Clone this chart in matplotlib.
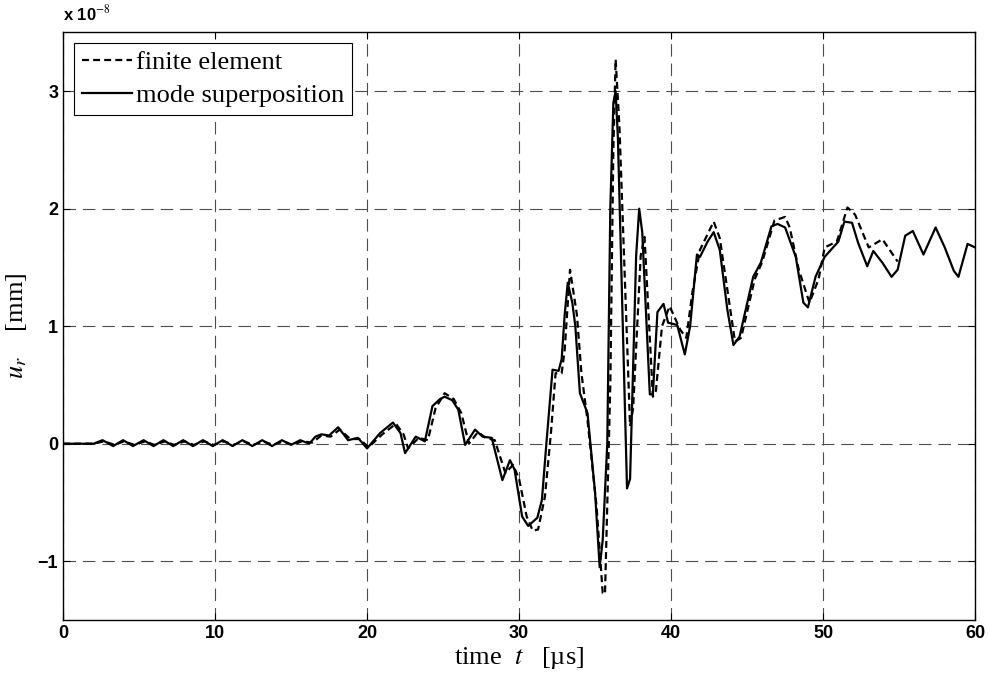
import matplotlib.pyplot as plt

plt.rcParams['lines.scale_dashes'] = False
plt.rcParams['mathtext.fontset'] = 'stix'

# mode superposition (solid), u_r in units of 1e-8 mm
t_mode = [0, 2.0, 2.6, 3.3, 3.95, 4.6, 5.3, 5.95, 6.6, 7.25, 7.9, 8.55, 9.2, 9.85,
          10.5, 11.15, 11.8, 12.45, 13.1, 13.75, 14.4, 15.0, 15.6, 16.2, 16.6, 17.0,
          17.5, 18.1, 18.75, 19.4, 20.0, 20.85, 21.7, 22.2, 22.5, 23.2, 23.8, 24.3,
          24.8, 25.1, 25.6, 26.0, 26.45, 27.1, 27.6, 28.2, 28.9, 29.4, 29.7, 30.2,
          30.6, 31.2, 31.5, 31.8, 32.2, 32.6, 32.8, 33.0, 33.2, 33.5, 33.7, 34.0, 34.5, 35.0,
          35.3, 35.5, 35.8, 36.0, 36.2, 36.35, 36.5, 37.1, 37.3, 37.7, 37.9, 38.1, 38.6, 38.8,
          39.1, 39.5, 39.8, 40.4, 40.9, 41.25, 41.7, 41.9, 42.4, 42.8, 43.2, 43.7, 44.1,
          44.5, 45.4, 45.9, 46.6, 47.0, 47.5, 48.2, 48.7, 49.0, 49.5, 50.1, 51.0,
          51.4, 51.9, 52.3, 52.9, 53.3, 53.9, 54.5, 54.9, 55.4, 55.9, 56.6, 57.4,
          58.0, 58.6, 58.9, 59.5, 60.0]
u_mode = [0, 0.0, 0.03, -0.02, 0.03, -0.02, 0.03, -0.02, 0.03, -0.02, 0.03, -0.02,
          0.03, -0.02, 0.03, -0.02, 0.03, -0.02, 0.03, -0.02, 0.03, -0.01, 0.03, 0.0,
          0.06, 0.08, 0.07, 0.14, 0.03, 0.05, -0.04, 0.09, 0.18, 0.09, -0.08, 0.06,
          0.02, 0.32, 0.38, 0.40, 0.37, 0.29, -0.01, 0.12, 0.06, 0.05, -0.31, -0.14,
          -0.22, -0.62, -0.70, -0.63, -0.48, 0.01, 0.63, 0.62, 0.72, 1.1, 1.37, 1.2, 1.0, 0.43,
          0.26, -0.42, -1.05, -0.82, 0.0, 2.0, 2.9, 3.0, 2.6, -0.38, -0.3, 1.6, 2.0, 1.8,
          0.42, 0.42, 1.12, 1.19, 1.03, 1.01, 0.76, 1.0, 1.61, 1.59, 1.72, 1.80, 1.65,
          1.14, 0.84, 0.91, 1.42, 1.54, 1.85, 1.87, 1.84, 1.59, 1.2, 1.16, 1.42,
          1.59, 1.72, 1.89, 1.88, 1.71, 1.51, 1.64, 1.54, 1.42, 1.48, 1.77, 1.81,
          1.61, 1.84, 1.67, 1.47, 1.42, 1.70, 1.67]

# finite element (dashed)
t_fe = [0, 2.0, 2.7, 3.4, 4.0, 4.7, 5.4, 6.0, 6.7, 7.3, 8.0, 8.6, 9.3, 9.9, 10.6,
        11.2, 11.9, 12.5, 13.2, 13.8, 14.5, 15.1, 15.7, 16.4, 17.0, 17.6, 18.2,
        18.9, 19.5, 20.1, 21.0, 21.9, 22.4, 22.7, 23.4, 24.0, 24.5, 25.1, 25.7,
        26.2, 26.7, 27.3, 27.8, 28.4, 29.1, 29.6, 30.0, 30.5, 30.9, 31.25, 31.7,
        32.1, 32.4, 32.8, 33.0, 33.35, 33.8, 34.1, 34.5, 35.1, 35.5, 35.65, 36.0,
        36.2, 36.35, 36.6, 37.3, 37.5, 38.0, 38.25, 38.8, 39.0, 39.4, 39.9, 40.6, 41.0, 41.4,
        41.9, 42.8, 43.2, 43.7, 44.2, 44.6, 45.5, 46.0, 46.8, 47.5, 47.8, 48.4,
        49.1, 49.7, 50.1, 50.9, 51.6, 52.1, 53.0, 53.9, 54.9]
u_fe = [0, 0.0, 0.02, -0.01, 0.02, -0.01, 0.02, -0.01, 0.02, -0.01, 0.02, -0.01,
        0.02, -0.01, 0.02, -0.01, 0.02, -0.01, 0.02, -0.01, 0.02, -0.01, 0.02, 0.01,
        0.07, 0.06, 0.12, 0.04, 0.04, -0.03, 0.08, 0.17, 0.08, -0.04, 0.05, 0.03,
        0.30, 0.43, 0.38, 0.26, 0.0, 0.1, 0.05, 0.03, -0.25, -0.18, -0.3, -0.62,
        -0.74, -0.73, -0.45, 0.1, 0.6, 0.6, 0.8, 1.48, 1.1, 0.6, 0.2, -0.54, -1.27,
        -1.28, 0.5, 2.5, 3.27, 2.7, 0.15, 0.3, 1.6, 1.76, 0.4, 0.45, 1.0, 1.17, 0.97, 0.9,
        1.29, 1.65, 1.89, 1.75, 1.31, 0.87, 0.9, 1.4, 1.55, 1.9, 1.93, 1.84, 1.48,
        1.2, 1.4, 1.67, 1.72, 2.01, 1.95, 1.67, 1.74, 1.55]

xticks = [0, 10, 20, 30, 40, 50, 60]
yticks = [-1, 0, 1, 2, 3]
ytick_labels = ['\u22121', '0', '1', '2', '3']

fig = plt.figure(figsize=(9.88, 6.75), dpi=100)
ax = fig.add_axes([0.0638, 0.0815, 0.9232, 0.8705])

ax.plot(t_fe, u_fe, color='black', lw=1.6, linestyle=(0, (5, 3)), label='finite element')
ax.plot(t_mode, u_mode, color='black', lw=1.6, label='mode superposition')

ax.set_xlim(0, 60)
ax.set_ylim(-1.5, 3.5)
ax.set_xticks(xticks)
ax.set_yticks(yticks)
ax.set_yticklabels(ytick_labels)
ax.grid(True, color='0.3', lw=0.8, linestyle=(0, (9, 5)))
ax.tick_params(direction='in', top=True, right=True, length=5, labelsize=13)
for lab in ax.get_xticklabels() + ax.get_yticklabels():
    lab.set_family('Liberation Sans')
    lab.set_weight('bold')
for sp in ax.spines.values():
    sp.set_linewidth(1.0)

ax.set_xlabel('time  $t$   [\u00b5s]', family='Liberation Serif', fontsize=19, labelpad=2)
ax.set_ylabel('$u_r$    [mm]', family='Liberation Serif', fontsize=19, labelpad=6)
fig.text(0.064, 0.966, 'x 10$^{-8}$', family='Liberation Sans', fontsize=12,
         weight='bold', ha='left', va='bottom')

leg = ax.legend(loc='upper left', prop={'family': 'Liberation Serif', 'size': 19},
                fancybox=False, framealpha=1, edgecolor='black', handlelength=1.9,
                handletextpad=0.15, borderaxespad=0.4, borderpad=0.3, labelspacing=0.35)
leg.get_frame().set_linewidth(0.8)

fig.savefig('out.png', dpi=100)
